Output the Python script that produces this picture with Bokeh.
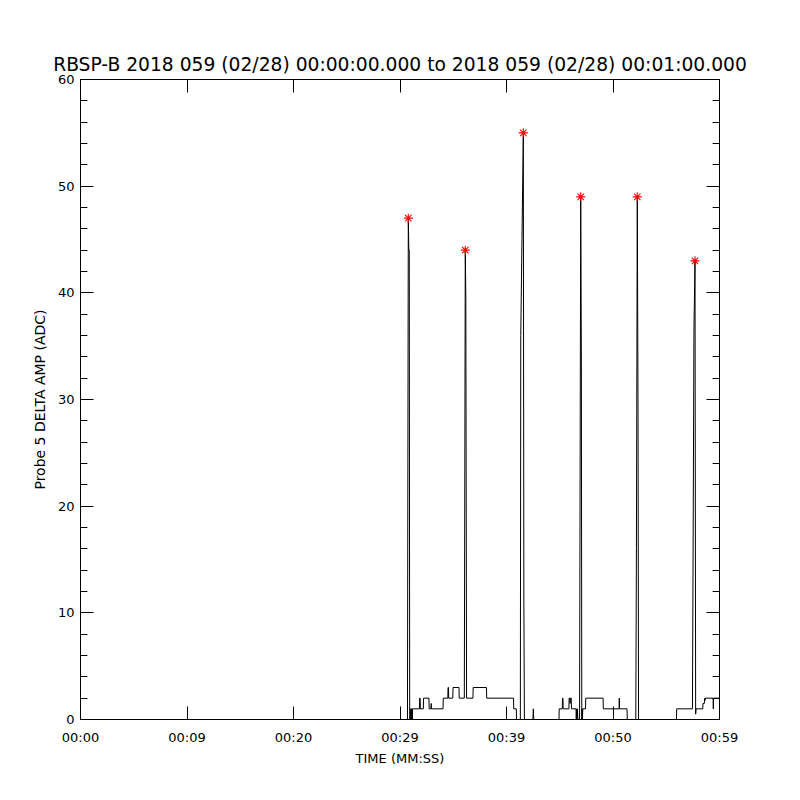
from bokeh.plotting import figure
from bokeh.models import LinearAxis, FixedTicker, Range1d, ColumnDataSource
from bokeh.embed import file_html
from bokeh.resources import INLINE

TITLE = "RBSP-B 2018 059 (02/28) 00:00:00.000 to 2018 059 (02/28) 00:01:00.000"
X_LABEL = "TIME (MM:SS)"
Y_LABEL = "Probe 5 DELTA AMP (ADC)"

x_ticks = [0, 10, 20, 30, 40, 50, 60]
x_tick_labels = ["00:00", "00:09", "00:20", "00:29", "00:39", "00:50", "00:59"]
y_ticks = [0, 10, 20, 30, 40, 50, 60]
y_minor = list(range(0, 61, 2))

# seconds after 00:00:00
time_s = [0.0, 30.70, 30.78, 30.83, 30.87, 30.91, 30.99, 31.00, 31.03, 31.04,
          31.08, 31.09, 31.12, 31.13, 31.17, 31.18, 31.83, 31.85, 31.89, 31.91,
          32.19, 32.21, 32.72, 32.74, 32.90, 32.93, 32.96, 34.04, 34.06, 34.49,
          34.51, 34.55, 34.57, 34.96, 34.98, 35.54, 35.56, 36.04, 36.13, 36.18,
          36.22, 36.25, 36.85, 36.87, 38.12, 38.14, 40.66, 40.68, 40.92, 40.94,
          41.30, 41.34, 41.58, 41.63, 41.68, 42.48, 42.52, 42.56, 44.93, 44.95,
          45.24, 45.26, 45.30, 45.32, 45.86, 45.88, 45.95, 45.97, 46.00, 46.08,
          46.10, 46.53, 46.55, 46.58, 46.62, 46.66, 46.70, 46.86, 46.97, 47.03,
          47.07, 47.10, 47.13, 47.16, 47.42, 47.44, 49.07, 49.09, 50.57, 50.59,
          50.61, 51.32, 51.34, 52.14, 52.20, 52.28, 52.35, 52.40, 55.96, 55.98,
          57.46, 57.52, 57.60, 57.70, 57.76, 57.80, 58.43, 58.45, 58.57, 58.62,
          58.64, 58.68, 59.40, 59.42, 59.44, 60.0]
amp_adc = [0, 0, 47, 44, 44, 0, 0, 1, 1, 0,
           0, 1, 1, 0, 0, 1, 1, 2, 2, 1,
           1, 2, 2, 1, 1, 1.5, 1, 1, 2, 2,
           3, 3, 2, 2, 3, 3, 2, 2, 44, 39.5,
           19, 2, 2, 3, 3, 2, 2, 1, 1, 0,
           0, 36, 55, 11, 0, 0, 1, 0, 0, 1,
           1, 2, 2, 1, 1, 2, 2, 1.5, 2, 2,
           1, 1, 0, 1, 0, 1, 0, 0, 49, 33.5,
           0, 1, 0, 1, 1, 2, 2, 1, 1, 2,
           1, 1, 0, 0, 16, 49, 29, 0, 0, 1,
           1, 15.5, 36.5, 43, 0.5, 1, 1, 1.5, 1.5, 2,
           1.8, 2, 2, 1, 2, 2]

peak_time_s = [30.78, 36.13, 41.58, 46.97, 52.28, 57.70]
peak_amp = [47, 44, 55, 49, 49, 43]

FONT = "DejaVu Sans"

p = figure(width=800, height=800, x_range=Range1d(0, 60), y_range=Range1d(0, 60),
           x_axis_type=None, y_axis_type=None, output_backend="svg",
           toolbar_location=None, min_border_left=80, min_border_right=81,
           min_border_top=79, min_border_bottom=81)
p.outline_line_color = None
p.background_fill_color = "white"
p.border_fill_color = "white"

p.title.text = TITLE
p.title.align = "center"
p.title.text_font = FONT
p.title.text_font_size = "18.7px"
p.title.text_font_style = "normal"
p.title.text_color = "black"

def style_axis(ax, minor):
    ax.axis_line_color = "black"
    ax.axis_line_width = 1
    ax.major_tick_in = 13
    ax.major_tick_out = 0
    ax.major_tick_line_color = "black"
    if minor:
        ax.minor_tick_in = 7
        ax.minor_tick_out = 0
        ax.minor_tick_line_color = "black"
    else:
        ax.minor_tick_line_color = None
    ax.major_label_text_font = FONT
    ax.major_label_text_font_size = "13px"
    ax.major_label_text_color = "black"
    ax.axis_label_text_font = FONT
    ax.axis_label_text_font_size = "13px"
    ax.axis_label_text_font_style = "normal"
    ax.axis_label_text_color = "black"

overrides = {t: lab for t, lab in zip(x_ticks, x_tick_labels)}

xb = LinearAxis(ticker=FixedTicker(ticks=x_ticks), major_label_overrides=overrides,
                axis_label=X_LABEL)
style_axis(xb, False)
xb.major_label_standoff = 10
xb.axis_label_standoff = 3
p.add_layout(xb, "below")

xt = LinearAxis(ticker=FixedTicker(ticks=x_ticks),
                major_label_overrides={t: "" for t in x_ticks})
style_axis(xt, False)
xt.major_label_standoff = 0
p.add_layout(xt, "above")

yl = LinearAxis(ticker=FixedTicker(ticks=y_ticks, minor_ticks=y_minor), axis_label=Y_LABEL)
style_axis(yl, True)
yl.major_label_standoff = 6
yl.axis_label_standoff = 7
yl.axis_label_text_font_size = "14px"
p.add_layout(yl, "left")

yr = LinearAxis(ticker=FixedTicker(ticks=y_ticks, minor_ticks=y_minor),
                major_label_overrides={t: "" for t in y_ticks})
style_axis(yr, True)
yr.major_label_standoff = 0
p.add_layout(yr, "right")

src = ColumnDataSource(dict(t=time_s, a=amp_adc))
p.line("t", "a", source=src, line_color="black", line_width=1)

psrc = ColumnDataSource(dict(t=peak_time_s, a=peak_amp))
p.scatter("t", "a", source=psrc, marker="asterisk", size=9, line_color="red",
          line_width=1.1)

open("out.html", "w").write(file_html(p, INLINE))
